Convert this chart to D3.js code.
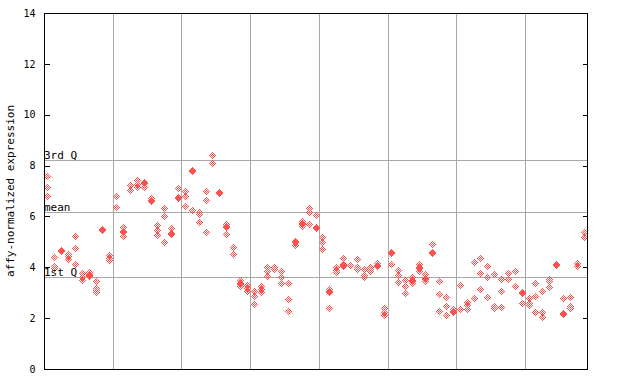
<!DOCTYPE html>
<html>
<head>
<meta charset="utf-8">
<script src="https://cdn.jsdelivr.net/npm/d3@7"></script>
<style>
body{margin:0;background:#fff;}
svg{display:block;}
text{font-family:"DejaVu Sans Mono",monospace;fill:#000;}
</style>
</head>
<body>
<svg width="640" height="384"></svg>
<script>
// hatched replicate points per sample (79 samples)
var hatchPts=[
 [7.54,7.10,6.75],[4.35,4.00,3.92],[],[4.48,4.39,4.29],[5.18,4.72,4.09],
 [3.72,3.59,3.47],[3.76,3.61],[3.42,3.16,3.06,2.98],[],[4.44,4.34,4.23],
 [6.75,6.33],[5.53,5.19],[7.20,7.00],[7.41,7.24,7.10],[7.12],
 [6.68,6.59,6.55],[5.62,5.43,5.24],[6.29,5.98,4.94],[5.51],[7.08],
 [6.95,6.75,6.39],[6.20],[6.13,6.06,5.73],[6.95,6.59,5.34],[8.36,8.05],
 [],[5.66,5.27],[4.75,4.47],[3.46,3.24],[3.25,3.13,3.03],
 [3.04,2.83,2.50],[3.21,3.09,2.98],[3.96,3.83,3.61],[3.97,3.88],[3.81,3.57,3.33],
 [3.33,2.70,2.23],[4.82],[5.78,5.60],[6.29,6.12,5.65],[6.02],
 [5.14,4.97,4.67],[3.11,2.35],[3.96,3.87,3.78],[4.33,4.01],[4.04],
 [4.27,3.98,3.91],[3.91,3.64,3.57],[3.96,3.88,3.80],[4.14],[2.36,2.21,2.10],
 [4.09],[3.85,3.65,3.37],[3.46,3.24,2.95],[3.57,3.33],[4.09,3.83],
 [3.70,3.41],[4.88],[3.41,2.90,2.23],[2.78,2.43,2.07],[2.33],
 [3.25,2.33],[2.60,2.47,2.33],[4.16,2.74],[4.31,3.72,3.09],[4.00,3.57,2.78],
 [3.70,2.43,2.35],[3.51,3.01,2.39],[3.72,3.51],[3.83,3.21],[2.54],
 [2.74,2.57,2.49],[3.33,2.84,2.19],[3.03,2.19,2.02],[3.51,3.43,3.17],[],
 [2.74],[2.78,2.42,2.34],[4.12,4.02],[5.34,5.16]
];
// solid points (null = none)
var solidPts=[
 null,null,4.64,null,null,null,3.70,null,5.48,null,
 null,5.39,null,null,7.30,null,null,null,5.32,6.74,
 null,7.80,null,null,null,6.92,5.60,null,3.35,null,
 null,null,null,null,null,null,5.00,5.69,null,5.56,
 null,3.04,null,4.09,null,null,null,null,4.04,null,
 4.57,null,null,3.46,3.96,3.54,4.57,null,null,2.23,
 null,null,null,null,null,null,null,null,null,3.00,
 null,null,null,null,4.08,2.15,null,null,null
];
var groupBreaks=[10,20,30,40,50,60,70];
var yTicks=[0,2,4,6,8,10,12,14];
var qLines=[{label:"3rd Q",v:8.21},{label:"mean",v:6.19},{label:"1st Q",v:3.61}];

var svg=d3.select("svg");
var x0=44,x1=587,y0=369,y1=13;
var red="#ff5050";

var x=d3.scaleLinear().domain([-0.5,hatchPts.length-0.5]).range([x0,x1]);
var y=d3.scaleLinear().domain([0,14]).range([y0,y1]);

var defs=svg.append("defs");
var pat=defs.append("pattern").attr("id","hatch").attr("patternUnits","userSpaceOnUse")
 .attr("width",2).attr("height",2);
pat.append("rect").attr("x",0).attr("y",0).attr("width",1).attr("height",1).attr("fill",red);
pat.append("rect").attr("x",1).attr("y",1).attr("width",1).attr("height",1).attr("fill",red);

var g=svg.append("g").attr("shape-rendering","crispEdges");

// vertical group lines
g.selectAll(".vg").data(groupBreaks).enter().append("line")
 .attr("x1",d=>Math.round(x(d-0.5))+0.5).attr("x2",d=>Math.round(x(d-0.5))+0.5)
 .attr("y1",y1).attr("y2",y0).attr("stroke","#a8a8a8");

// quartile / mean lines
g.selectAll(".hq").data(qLines).enter().append("line")
 .attr("x1",x0).attr("x2",x1)
 .attr("y1",d=>Math.round(y(d.v))+0.5).attr("y2",d=>Math.round(y(d.v))+0.5)
 .attr("stroke","#a8a8a8");
svg.selectAll(".ql").data(qLines).enter().append("text")
 .attr("x",x0).attr("y",d=>Math.round(y(d.v))-1)
 .attr("font-size","11px").text(d=>d.label);

// points
var diamond="M0,-4L4,0L0,4L-4,0Z";
var hp=[];
hatchPts.forEach(function(arr,i){arr.forEach(function(v){hp.push([i,v]);});});
g.selectAll(".hp").data(hp).enter().append("path")
 .attr("d",diamond)
 .attr("transform",d=>"translate("+Math.round(x(d[0]))+","+Math.round(y(d[1]))+")")
 .attr("fill","url(#hatch)");
var sp=[];
solidPts.forEach(function(v,i){if(v!=null)sp.push([i,v]);});
g.selectAll(".sp").data(sp).enter().append("path")
 .attr("d",diamond)
 .attr("transform",d=>"translate("+Math.round(x(d[0]))+","+Math.round(y(d[1]))+")")
 .attr("fill",red);

// axes
var yl=d3.axisLeft(y).tickValues(yTicks).tickSize(-5).tickPadding(9).tickFormat(d3.format("d"));
var ya=svg.append("g").attr("transform","translate("+(x0+0.5)+",0)").call(yl);
ya.select(".domain").remove();
ya.selectAll("line").attr("stroke","#000").attr("shape-rendering","crispEdges");
ya.selectAll("text").attr("font-family","DejaVu Sans Mono").attr("font-size","10px").attr("fill","#000");

var yr=d3.axisRight(y).tickValues(yTicks).tickSize(-5).tickFormat("");
var yra=svg.append("g").attr("transform","translate("+(x1+0.5)+",0)").call(yr);
yra.select(".domain").remove();
yra.selectAll("line").attr("stroke","#000").attr("shape-rendering","crispEdges");

// frame
svg.append("rect").attr("x",x0+0.5).attr("y",y1+0.5).attr("width",x1-x0).attr("height",y0-y1)
 .attr("fill","none").attr("stroke","#000").attr("shape-rendering","crispEdges");

svg.append("text").attr("transform","translate(14,"+((y0+y1)/2)+") rotate(-90)")
 .attr("text-anchor","middle").attr("font-size","11px").text("affy-normalized expression");
</script>
</body>
</html>
